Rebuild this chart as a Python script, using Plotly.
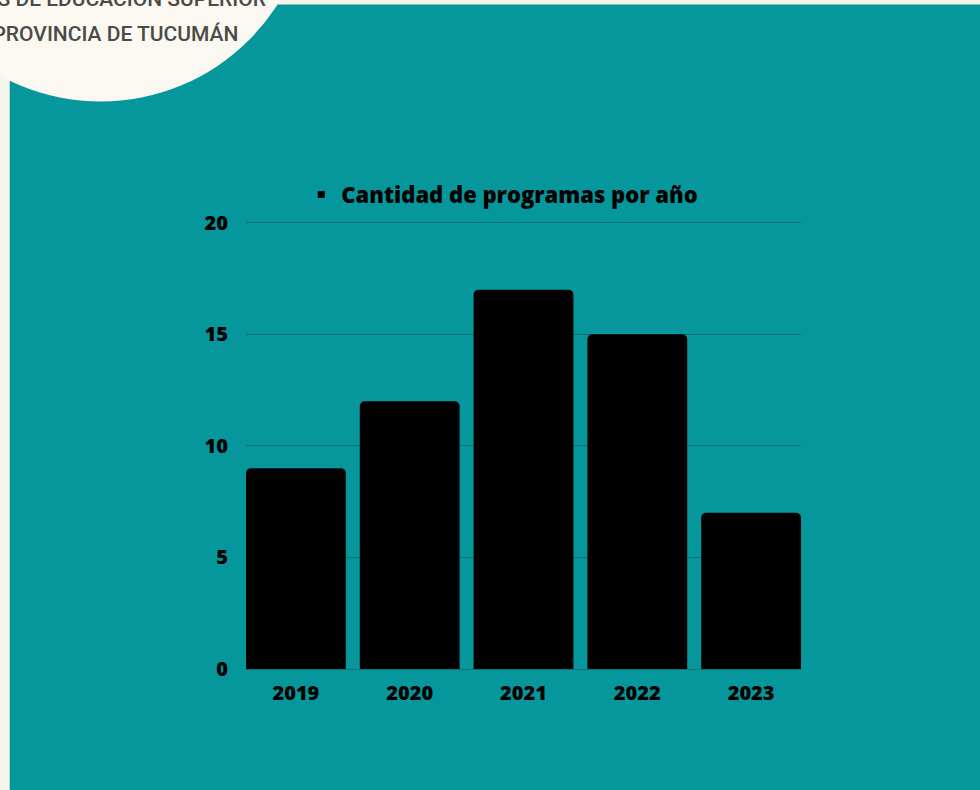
import plotly.graph_objects as go

# Datos del grafico
anios = ["2019", "2020", "2021", "2022", "2023"]
programas = [9, 12, 17, 15, 7]
serie_nombre = "Cantidad de programas por año"
y_ticks = [0, 5, 10, 15, 20]

# Colores
TEAL = "#05979C"
GRID = "#0A7276"
BEIGE = "#F7F4EA"
CIRCLE = "#FAF8F0"
LOGO_TXT = "#4A4A48"

W, H = 980, 790
Y_TOP = 20.3          # un poco mas que 20 para que se vea la linea de 20
PX_PER_UNIT = 446 / 20
M_L, M_R, M_B = 245.5, 179, 121
M_T = H - M_B - Y_TOP * PX_PER_UNIT
PW = W - M_L - M_R
PH = H - M_T - M_B

BOLD_FONT = dict(family="Open Sans, sans-serif", size=20, color="#000000", weight=800)
LOGO_FONT = dict(family="Roboto, sans-serif", size=21, color=LOGO_TXT, weight=500)


def px_x(px):
    """Pixel horizontal -> coordenada paper."""
    return (px - M_L) / PW


def px_y(py):
    """Pixel vertical (desde arriba) -> coordenada paper."""
    return (H - M_B - py) / PH


fig = go.Figure()
fig.add_trace(go.Bar(
    x=anios,
    y=programas,
    name=serie_nombre,
    marker=dict(color="#000000", line=dict(width=0), cornerradius=5),
    showlegend=False,
))
# solo para la leyenda (cuadradito chico)
fig.add_trace(go.Scatter(
    x=[None], y=[None], mode="markers", name=serie_nombre,
    marker=dict(symbol="square", size=7, color="#000000"),
    showlegend=True, hoverinfo="skip",
))

shapes = [
    # fondo teal
    dict(type="rect", xref="paper", yref="paper", layer="below",
         x0=px_x(9), x1=px_x(W + 5), y0=px_y(5), y1=px_y(H + 5),
         fillcolor=TEAL, line=dict(width=0)),
    # circulo del logo
    dict(type="circle", xref="paper", yref="paper", layer="below",
         x0=px_x(100 - 210), x1=px_x(100 + 210), y0=px_y(-108 + 210), y1=px_y(-108 - 210),
         fillcolor=CIRCLE, line=dict(width=0)),
]

annotations = [
    dict(text="INSTITUTOS DE EDUCACIÓN SUPERIOR", xref="paper", yref="paper",
         x=px_x(268), y=px_y(13), xanchor="right", yanchor="bottom", showarrow=False,
         font=LOGO_FONT),
    dict(text="DE LA PROVINCIA DE TUCUMÁN", xref="paper", yref="paper",
         x=px_x(239), y=px_y(48), xanchor="right", yanchor="bottom", showarrow=False,
         font=LOGO_FONT),
]

fig.update_layout(
    width=W, height=H,
    margin=dict(l=M_L, r=M_R, t=M_T, b=M_B, pad=0),
    paper_bgcolor=BEIGE,
    plot_bgcolor="rgba(0,0,0,0)",
    font=BOLD_FONT,
    bargap=0.123,
    shapes=shapes,
    annotations=annotations,
    showlegend=True,
    legend=dict(orientation="h", x=px_x(502), xanchor="center", y=px_y(195), yanchor="middle",
                bgcolor="rgba(0,0,0,0)", itemwidth=30,
                font=dict(BOLD_FONT, size=22)),
)
fig.update_xaxes(
    range=[-0.5 + 0.0615, 4.5 - 0.0615],
    showgrid=False, showline=False, ticks="", ticklabelstandoff=10,
    tickfont=BOLD_FONT,
)
fig.update_yaxes(
    range=[0, Y_TOP], tickvals=y_ticks,
    showgrid=True, gridcolor=GRID, gridwidth=1,
    zeroline=True, zerolinecolor=GRID, zerolinewidth=1,
    showline=False, ticks="", ticklabelstandoff=17,
    tickfont=BOLD_FONT,
)

# sin margen del body, para que la figura arranque en (0, 0)
fig.write_html(
    "out.html",
    config={"displayModeBar": False},
    post_script="document.body.style.margin='0';document.body.style.background='%s';" % BEIGE,
)
